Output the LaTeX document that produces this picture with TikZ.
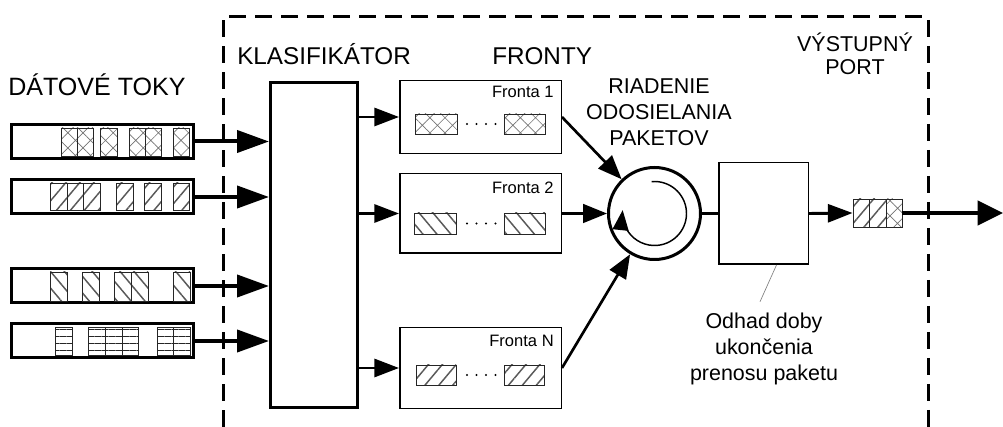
\documentclass[tikz,border=0pt]{standalone}
\usepackage{fontspec}
\setmainfont{Liberation Sans}
\usetikzlibrary{arrows.meta,patterns.meta,calc}

% packet cell: corner, corner, pattern style
\newcommand\pktcell[5]{\draw[cell,#5] (#1,#2) rectangle (#3,#4);}

\tikzset{
  frame/.style={line width=2.25pt, dash pattern=on 12.75pt off 6.75pt},
  flowbox/.style={draw, line width=2.25pt, minimum width=136.5pt, minimum height=25.5pt, inner sep=0pt},
  qbox/.style={draw, line width=1.1pt, minimum width=121.1pt, inner sep=0pt},
  cell/.style={line width=0.7pt, draw=black!85, preaction={fill=white}},
  xh/.style={pattern={Hatch[angle=45,distance=8pt,line width=0.5pt]}, pattern color=black!55},
  ne/.style={pattern={Lines[angle=50,distance=8pt,line width=1.1pt]}, pattern color=black!65},
  nw/.style={pattern={Lines[angle=-50,distance=8pt,line width=1.1pt]}, pattern color=black!65},
  hz/.style={pattern={Lines[angle=0,distance=5.25pt,line width=0.55pt]}, pattern color=black!85},
  bigarr/.style={line width=3pt, -{Triangle[length=24pt,width=16.5pt]}},
  midarr/.style={line width=2.2pt, -{Triangle[length=18.5pt,width=13.5pt]}},
  qarr/.style={line width=2pt, -{Triangle[length=18pt,width=14pt]}},
  finarr/.style={line width=3.2pt, -{Triangle[length=19pt,width=18pt]}},
  lblA/.style={font=\fontsize{18.2pt}{21pt}\selectfont, inner sep=0pt},
  lblB/.style={font=\fontsize{16.1pt}{19.5pt}\selectfont, inner sep=0pt, align=center},
  flbl/.style={font=\fontsize{12.4pt}{14pt}\selectfont, inner sep=0pt},
}

\begin{document}
\begin{tikzpicture}[x=0.75pt,y=-0.75pt]
\useasboundingbox (0,0) rectangle (1003,427);

% switch boundary
\draw[frame] (223,427) -- (223,17) -- (928,17) -- (928,427);

% headings
\node[lblA, font=\fontsize{18.8pt}{21pt}\selectfont, anchor=base west] (tDT) at (8,96) {DÁTOVÉ TOKY};
\node[lblA, anchor=base west] (tKL) at (237,65) {KLASIFIKÁTOR};
\node[lblA, anchor=base west] (tFR) at (492,65) {FRONTY};
\node[lblB] (tRO) at (659,112) {RIADENIE\\ODOSIELANIA\\PAKETOV};
\node[lblB, font=\fontsize{16.1pt}{17.25pt}\selectfont] (tVP) at (855,54) {VÝSTUPNÝ\\PORT};

% input data flows
\node[flowbox] (f1) at (102.5,141.5) {};
\node[flowbox] (f2) at (102.5,197) {};
\node[flowbox] (f3) at (102.5,286) {};
\node[flowbox] (f4) at (102.5,341) {};

\foreach \a/\b in {61/77,77/93,100/117,129/145,145/161,173/189}
  {\pktcell{\a}{128}{\b}{156}{xh}}
\foreach \a/\b in {50/67,67/83,83/100,116/133,144/161,173/189}
  {\pktcell{\a}{183}{\b}{210}{ne}}
\foreach \a/\b in {50/67,82/99,114/131,131/148,173/190}
  {\pktcell{\a}{272}{\b}{301}{nw}}
\foreach \a/\b in {55/72,88/105,105/122,122/138,157/173,173/190}
  {\pktcell{\a}{327}{\b}{355}{hz}}

% classifier
\node[draw, line width=2.25pt, minimum width=65.25pt, minimum height=243.75pt, inner sep=0pt] (cls) at (314,245) {};

\draw[bigarr] (f1.east) -- (f1.east -| cls.west);
\draw[bigarr] (f2.east) -- (f2.east -| cls.west);
\draw[bigarr] (f3.east) -- (f3.east -| cls.west);
\draw[bigarr] (f4.east) -- (f4.east -| cls.west);

% queues
\node[qbox, minimum height=54.4pt] (q1) at (480.5,117) {};
\node[qbox, minimum height=59.6pt] (q2) at (480.5,213.5) {};
\node[qbox, minimum height=60.4pt] (qN) at (480.5,368) {};

\node[flbl, anchor=base east] (l1) at ($(q1.north east)+(-8,18)$) {Fronta 1};
\node[flbl, anchor=base east] (l2) at ($(q2.north east)+(-8,20)$) {Fronta 2};
\node[flbl, anchor=base east] (lN) at ($(qN.north east)+(-8,20)$) {Fronta N};

\pktcell{415}{114}{457}{134}{xh}
\pktcell{504}{114}{545}{134}{xh}
\pktcell{414}{213}{456}{234}{nw}
\pktcell{504}{213}{545}{234}{nw}
\pktcell{416}{365}{456}{385}{ne}
\pktcell{504}{365}{544}{385}{ne}
\foreach \y in {124,223.5,375}
  {\foreach \x in {467,476.5,486,495.5}
    {\fill (\x,\y) circle[radius=0.9pt];}}

\draw[midarr] (q1.west -| cls.east) -- (q1.west);
\draw[midarr] (q2.west -| cls.east) -- (q2.west);
\draw[midarr] (qN.west -| cls.east) -- (qN.west);

% scheduler
\node[draw, circle, line width=2.25pt, minimum size=69pt, inner sep=0pt] (sch) at (654.5,213.5) {};
\draw[line width=1.1pt, -{Triangle[length=15pt,width=12pt]}]
  (sch.center) ++(95:24pt) arc[start angle=95, end angle=-186, radius=24pt];

\draw[qarr] (q1.east) -- (sch);
\draw[qarr] (q2.east) -- (sch);
\draw[qarr] (qN.east) -- (sch);

% completion-time estimator
\node[draw, line width=1.1pt, minimum width=67.1pt, minimum height=76.1pt, inner sep=0pt] (est) at (763.5,213.5) {};
\draw[line width=2.25pt] (sch.east) -- (est.west);

\node[lblB] (note) at (764,349) {Odhad doby\\ukončenia\\prenosu paketu};
\draw[black!50, line width=0.5pt] ([xshift=9.75pt]est.south) -- ($(note.north)+(-4,-11)$);

% output port
\pktcell{853}{199}{869}{227}{ne}
\pktcell{869}{199}{886}{227}{ne}
\pktcell{886}{199}{902}{227}{xh}
\node[draw=black!85, line width=0.7pt, minimum width=36.75pt, minimum height=21pt, inner sep=0pt] (out) at (877.5,213) {};
\coordinate (endpt) at (1003,213);

\draw[midarr] (est.east) -- (out.west);
\draw[finarr] (out.east) -- (endpt);
\end{tikzpicture}
\end{document}
